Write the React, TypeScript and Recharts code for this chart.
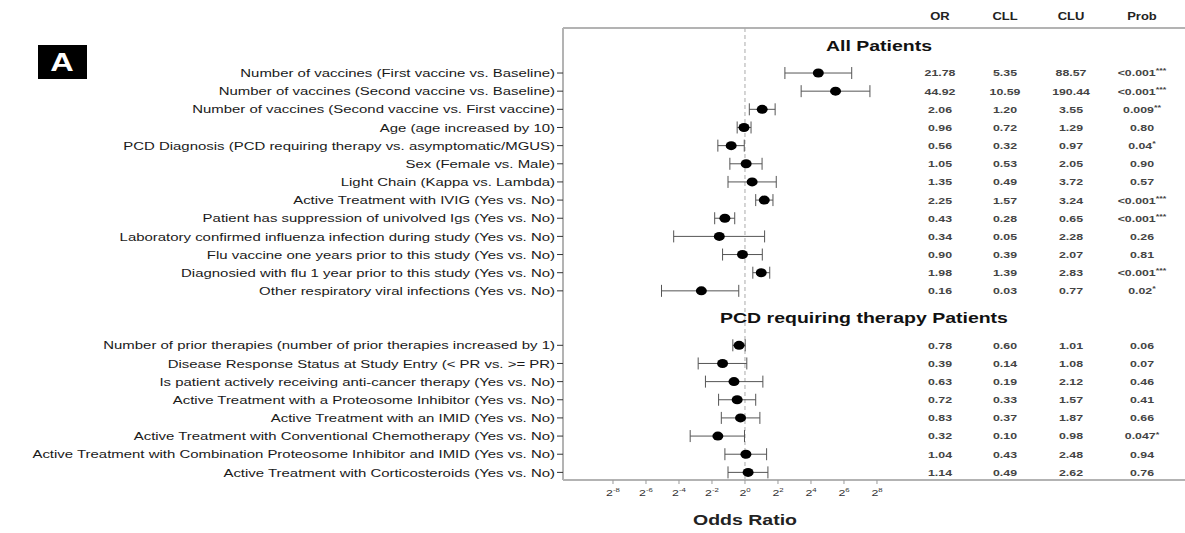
import { ComposedChart, Scatter, ErrorBar, XAxis, YAxis, ReferenceLine } from 'recharts'

// rows of the forest plot, two sections
const allPatientsLabels = [
  'Number of vaccines (First vaccine vs. Baseline)',
  'Number of vaccines (Second vaccine vs. Baseline)',
  'Number of vaccines (Second vaccine vs. First vaccine)',
  'Age (age increased by 10)',
  'PCD Diagnosis (PCD requiring therapy vs. asymptomatic/MGUS)',
  'Sex (Female vs. Male)',
  'Light Chain (Kappa vs. Lambda)',
  'Active Treatment with IVIG (Yes vs. No)',
  'Patient has suppression of univolved Igs (Yes vs. No)',
  'Laboratory confirmed influenza infection during study (Yes vs. No)',
  'Flu vaccine one years prior to this study (Yes vs. No)',
  'Diagnosied with flu 1 year prior to this study (Yes vs. No)',
  'Other respiratory viral infections (Yes vs. No)',
]
const pcdLabels = [
  'Number of prior therapies (number of prior therapies increased by 1)',
  'Disease Response Status at Study Entry (< PR vs. >= PR)',
  'Is patient actively receiving anti-cancer therapy (Yes vs. No)',
  'Active Treatment with a Proteosome Inhibitor (Yes vs. No)',
  'Active Treatment with an IMID (Yes vs. No)',
  'Active Treatment with Conventional Chemotherapy (Yes vs. No)',
  'Active Treatment with Combination Proteosome Inhibitor and IMID (Yes vs. No)',
  'Active Treatment with Corticosteroids (Yes vs. No)',
]

const orValues = [21.78, 44.92, 2.06, 0.96, 0.56, 1.05, 1.35, 2.25, 0.43, 0.34, 0.9, 1.98, 0.16, 0.78, 0.39, 0.63, 0.72, 0.83, 0.32, 1.04, 1.14]
const cllValues = [5.35, 10.59, 1.2, 0.72, 0.32, 0.53, 0.49, 1.57, 0.28, 0.05, 0.39, 1.39, 0.03, 0.6, 0.14, 0.19, 0.33, 0.37, 0.1, 0.43, 0.49]
const cluValues = [88.57, 190.44, 3.55, 1.29, 0.97, 2.05, 3.72, 3.24, 0.65, 2.28, 2.07, 2.83, 0.77, 1.01, 1.08, 2.12, 1.57, 1.87, 0.98, 2.48, 2.62]
const probValues = [
  '<0.001***', '<0.001***', '0.009**', '0.80', '0.04*', '0.90', '0.57', '<0.001***', '<0.001***', '0.26', '0.81', '<0.001***', '0.02*',
  '0.06', '0.07', '0.46', '0.41', '0.66', '0.047*', '0.94', '0.76',
]

const tableHeaders = ['OR', 'CLL', 'CLU', 'Prob']
const xTickExponents = [-8, -6, -4, -2, 0, 2, 4, 6, 8]

const SX = 1.3 // the source figure is stretched horizontally
const FONT = '"Liberation Sans", Arial, Helvetica, sans-serif'
const TABLE_X = [940, 1005, 1071, 1142]

// row position on the y axis (a blank gap of two rows between sections)
const labels = [...allPatientsLabels, ...pcdLabels]
const rowPos = labels.map((_, i) => (i < allPatientsLabels.length ? i : i + 2))
const fmt = (v: number) => v.toFixed(2)

const data = labels.map((name, i) => {
  const x = Math.log2(orValues[i])
  return {
    name,
    y: rowPos[i],
    x,
    err: [x - Math.log2(cllValues[i]), Math.log2(cluValues[i]) - x],
  }
})

function StretchText({ x, y, size, weight, fill, anchor, children, dy }: any) {
  return (
    <text
      transform={`translate(${x},${y}) scale(${SX},1)`}
      textAnchor={anchor || 'middle'}
      dy={dy}
      fontSize={size}
      fontWeight={weight || 'normal'}
      fill={fill || '#222'}
      fontFamily={FONT}
    >
      {children}
    </text>
  )
}

function ProbText({ value }: { value: string }) {
  const base = value.replace(/\*+$/, '')
  const stars = value.slice(base.length)
  return (
    <>
      <tspan>{base}</tspan>
      {stars && (
        <tspan fontSize={7} dy={-3}>
          {stars}
        </tspan>
      )}
    </>
  )
}

function RowTick(props: any) {
  const { x, y, payload } = props
  const i = rowPos.indexOf(payload.value)
  if (i < 0) return null
  const cells = [fmt(orValues[i]), fmt(cllValues[i]), fmt(cluValues[i])]
  return (
    <g>
      <StretchText x={x} y={y} size={11.5} anchor="end" dy="0.36em" fill="#1a1a1a">
        {labels[i]}
      </StretchText>
      {cells.map((c, k) => (
        <StretchText key={k} x={TABLE_X[k]} y={y} size={9.5} weight="bold" dy="0.36em" fill="#444">
          {c}
        </StretchText>
      ))}
      <StretchText x={TABLE_X[3]} y={y} size={9.5} weight="bold" dy="0.36em" fill="#444">
        <ProbText value={probValues[i]} />
      </StretchText>
    </g>
  )
}

function PowTick(props: any) {
  const { x, y, payload } = props
  return (
    <StretchText x={x} y={y + 10} size={9.5} fill="#333">
      <tspan>2</tspan>
      <tspan fontSize={6} dy={-4}>
        {payload.value}
      </tspan>
    </StretchText>
  )
}

const PointMark = (props: any) => (
  <ellipse cx={props.cx} cy={props.cy} rx={5.5} ry={4.5} fill="#000" />
)

const sectionTitle = (text: string, cx: number) => (props: any) => (
  <StretchText x={cx} y={props.viewBox.y} size={15} weight="bold" dy="0.36em" fill="#111">
    {text}
  </StretchText>
)

const headerRow = (props: any) => (
  <g>
    {tableHeaders.map((h, k) => (
      <StretchText key={h} x={TABLE_X[k]} y={props.viewBox.y - 8} size={10} weight="bold" fill="#222">
        {h}
      </StretchText>
    ))}
  </g>
)

export default function App() {
  return (
    <div style={{ position: 'absolute', left: 0, top: 0, width: 1185, height: 533, background: '#fff' }}>
      <div
        style={{
          position: 'absolute',
          left: 38,
          top: 45,
          width: 49,
          height: 34,
          background: '#000',
          color: '#fff',
          fontFamily: FONT,
          fontWeight: 'bold',
          fontSize: 25,
          lineHeight: '34px',
          textAlign: 'center',
        }}
      >
        <span style={{ display: 'inline-block', transform: `scaleX(${SX})` }}>A</span>
      </div>

      <ComposedChart width={1185} height={533} data={data} margin={{ top: 28, right: 0, bottom: 0, left: 0 }}>
        <XAxis
          type="number"
          dataKey="x"
          domain={[-11.03, 26.67]}
          ticks={xTickExponents}
          interval={0}
          allowDataOverflow
          height={53}
          tick={<PowTick />}
          tickSize={4}
          tickMargin={2}
          tickLine={{ stroke: '#999' }}
          axisLine={{ stroke: '#b3b3b3', strokeWidth: 2 }}
        />
        <YAxis
          type="number"
          dataKey="y"
          domain={[-2.48, 22.42]}
          ticks={rowPos}
          interval={0}
          reversed
          allowDataOverflow
          width={563}
          tick={<RowTick />}
          tickSize={6}
          tickMargin={2}
          tickLine={{ stroke: '#333' }}
          axisLine={{ stroke: '#b3b3b3', strokeWidth: 2 }}
        />
        <ReferenceLine y={-2.48} stroke="#b3b3b3" strokeWidth={2} label={headerRow} />
        <ReferenceLine x={0} stroke="#aaa" strokeDasharray="4 3" />
        <ReferenceLine y={-1.5} stroke="none" label={sectionTitle('All Patients', 879)} />
        <ReferenceLine y={13.5} stroke="none" label={sectionTitle('PCD requiring therapy Patients', 864)} />
        <Scatter dataKey="y" shape={PointMark} isAnimationActive={false}>
          <ErrorBar dataKey="err" direction="x" width={6} stroke="#555" strokeWidth={1} />
        </Scatter>
      </ComposedChart>

      <div
        style={{
          position: 'absolute',
          left: 745,
          top: 511,
          transform: `translateX(-50%) scaleX(${SX})`,
          fontFamily: FONT,
          fontWeight: 'bold',
          fontSize: 15,
          color: '#222',
          whiteSpace: 'nowrap',
        }}
      >
        Odds Ratio
      </div>
    </div>
  )
}
